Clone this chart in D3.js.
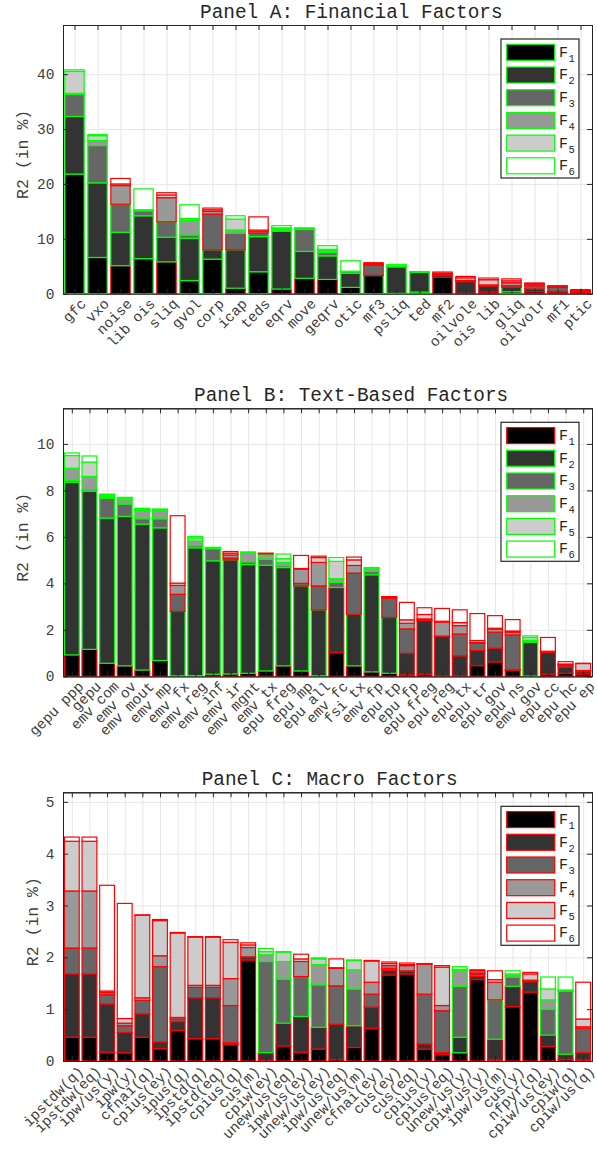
<!DOCTYPE html>
<html>
<head>
<meta charset="utf-8">
<title>R2 by factor</title>
<script src="https://d3js.org/d3.v7.min.js"></script>
<style>
  body { margin: 0; background: #fff; }
  svg text { font-family: 'Liberation Mono', 'DejaVu Sans Mono', monospace; fill: #262626; }
  .grid line { stroke: #e6e6e6; stroke-width: 1; }
  .axis path { stroke: #262626; }
  .axis line { stroke: #262626; }
  .axis text { font-size: 14.5px; fill: #404040; }
  text.title { font-size: 19.4px; }
  text.ylab { font-size: 16.5px; fill: #404040; }
</style>
</head>
<body>
<div id="chart"></div>
<script>
// cumulative R2 (in %) when adding factors F1..F6, and edge colour per factor (g = green, r = red)

var finLabels = ["gfc","vxo","noise","lib ois","sliq","gvol","corp","icap","teds","eqrv","move","geqrv",
  "otic","mf3","psliq","ted","mf2","oilvole","ois lib","gliq","oilvolr","mf1","ptic"];
var finR2 = [
  [21.8, 32.3, 36.3, 36.5, 40.5, 40.8],
  [6.6, 20.2, 27.0, 27.9, 28.8, 29.0],
  [5.1, 11.2, 16.3, 19.7, 20.0, 21.0],
  [6.4, 14.2, 15.1, 15.2, 15.3, 19.1],
  [5.8, 10.3, 13.1, 17.5, 18.0, 18.4],
  [2.4, 10.1, 10.7, 13.4, 13.7, 16.2],
  [6.3, 8.0, 14.5, 15.0, 15.3, 15.6],
  [1.0, 8.0, 11.0, 11.6, 13.6, 14.2],
  [4.0, 10.4, 11.0, 11.3, 11.6, 14.0],
  [0.85, 11.4, 11.6, 11.8, 12.0, 12.4],
  [2.8, 7.7, 11.7, 11.8, 11.9, 12.0],
  [2.6, 6.9, 7.5, 8.0, 8.1, 8.75],
  [1.15, 3.7, 4.0, 4.05, 4.1, 6.0],
  [3.3, 3.35, 5.2, 5.3, 5.45, 5.65],
  [0.05, 4.9, 4.95, 5.0, 5.1, 5.35],
  [0.3, 3.9, 3.95, 3.97, 3.98, 4.0],
  [3.0, 3.35, 3.4, 3.5, 3.7, 3.95],
  [0.05, 2.2, 2.3, 2.4, 2.9, 3.15],
  [0.3, 1.4, 1.5, 1.6, 2.55, 2.85],
  [0.35, 1.15, 1.45, 2.0, 2.35, 2.7],
  [0.35, 0.85, 1.45, 1.75, 1.85, 1.95],
  [0.3, 0.4, 1.15, 1.3, 1.4, 1.45],
  [0.25, 0.35, 0.45, 0.55, 0.6, 0.75]
];
var finSig = ["gggggg","gggggg","rggrrr","gggggg","rggrrr","gggggg","ggrrrr","rgrggg","gggrrr","rggggg",
  "rggggg","rggggg","gggggg","grrrrr","gggggg","gggggg","rrrrrr","rrrrrr","rrrrrr","ggrrrr","rrrrrr",
  "rrrrrr","rrrrrr"];

var textLabels = ["gepu ppp","gepu","emv com","emv ov","emv mout","emv mp","emv fx","emv reg","emv inf",
  "emv ir","emv mgnt","emv tx","epu freg","epu mp","epu all","emv fc","fsi tx","emv fp","epu tp","epu fp",
  "epu freg","epu reg","epu tx","epu tr","epu gov","epu ns","emv gov","epu cc","epu hc","epu ep"];
var textR2 = [
  [0.92, 8.35, 8.43, 8.95, 9.5, 9.61],
  [1.16, 7.96, 8.03, 8.6, 9.22, 9.48],
  [0.56, 6.81, 7.66, 7.74, 7.8, 7.84],
  [0.45, 6.88, 7.41, 7.6, 7.67, 7.7],
  [0.27, 6.55, 6.78, 7.14, 7.2, 7.23],
  [0.68, 6.39, 6.78, 7.1, 7.16, 7.2],
  [0.02, 2.79, 3.53, 3.91, 4.01, 6.91],
  [0.03, 5.53, 5.62, 5.82, 5.95, 6.02],
  [0.09, 4.97, 5.49, 5.51, 5.52, 5.55],
  [0.1, 5.01, 5.09, 5.22, 5.3, 5.37],
  [0.13, 4.81, 4.93, 5.3, 5.33, 5.35],
  [0.23, 4.78, 5.04, 5.23, 5.27, 5.3],
  [0.45, 4.68, 4.76, 4.9, 5.06, 5.26],
  [0.23, 3.89, 4.0, 4.61, 4.64, 5.2],
  [0.02, 2.86, 3.89, 4.9, 5.11, 5.17],
  [1.03, 3.82, 4.04, 4.2, 4.95, 5.11],
  [0.45, 2.67, 4.44, 4.77, 5.01, 5.13],
  [0.19, 4.37, 4.51, 4.61, 4.65, 4.68],
  [0.13, 2.53, 3.36, 3.39, 3.42, 3.43],
  [0.06, 0.99, 2.04, 2.28, 2.43, 3.18],
  [0.09, 2.4, 2.42, 2.47, 2.66, 2.95],
  [0.02, 1.71, 1.73, 2.33, 2.37, 2.92],
  [0.02, 0.88, 1.82, 2.18, 2.31, 2.86],
  [0.46, 1.11, 1.42, 1.45, 1.54, 2.7],
  [0.62, 1.21, 1.9, 2.03, 2.07, 2.61],
  [0.26, 0.28, 1.78, 1.9, 1.95, 2.44],
  [0.01, 1.47, 1.5, 1.55, 1.67, 1.74],
  [0.09, 1.02, 1.04, 1.06, 1.08, 1.67],
  [0.13, 0.39, 0.46, 0.5, 0.53, 0.63],
  [0.1, 0.2, 0.22, 0.25, 0.55, 0.56]
];
var textSig = ["rggggg","rggggg","rggggg","rggggg","rggggg","rggggg","ggrrrr","gggggg","rggggg","rgrrrr",
  "rggggg","rggggr","rggggg","rgrrrr","ggrrrr","rrgggg","rgrrrr","rggggg","rgrrrr","rrrrrr","rrrrrr",
  "rrrrrr","rrrrrr","rrrrrr","rrrrrr","rrrrrr","gggggg","rrrrrr","rrrrrr","rrrrrr"];

var macroLabels = ["ipstdw(q)","ipstdw(eq)","ipw/us(y)","ipw(y)","cfnai(q)","cpius(ey)","ipus(q)","ipstd(q)",
  "ipstd(eq)","cpius(q)","cus(m)","cpiw(ey)","unew/us(eq)","ipw/us(ey)","unew/us(ey)","ipw/us(eq)",
  "unew/us(m)","cfnai(ey)","cus(ey)","cus(eq)","cpius(y)","cpius(eq)","unew/us(y)","cpiw/us(y)",
  "ipw/us(m)","cus(y)","nfpyr(q)","cpiw/us(ey)","cpiw(q)","cpiw/us(q)"];
var macroR2 = [
  [0.46, 1.68, 2.18, 3.28, 4.24, 4.32],
  [0.46, 1.68, 2.18, 3.28, 4.24, 4.32],
  [0.17, 1.1, 1.28, 1.32, 1.35, 3.39],
  [0.16, 0.55, 0.68, 0.73, 0.82, 3.04],
  [0.46, 0.91, 1.17, 1.22, 2.81, 2.82],
  [0.24, 0.37, 1.82, 2.03, 2.71, 2.73],
  [0.59, 0.76, 0.81, 0.84, 2.47, 2.48],
  [0.43, 1.22, 1.42, 1.46, 2.39, 2.4],
  [0.43, 1.22, 1.42, 1.46, 2.39, 2.4],
  [0.32, 0.35, 1.07, 1.59, 2.29, 2.34],
  [1.95, 2.0, 2.01, 2.19, 2.24, 2.28],
  [0.01, 0.16, 1.92, 2.05, 2.11, 2.17],
  [0.29, 0.73, 1.58, 1.92, 2.1, 2.11],
  [0.17, 0.86, 1.63, 1.92, 1.97, 2.06],
  [0.23, 0.65, 1.47, 1.86, 1.97, 1.99],
  [0.03, 0.71, 1.45, 1.79, 1.8, 1.97],
  [0.26, 0.68, 1.39, 1.76, 1.94, 1.95],
  [0.63, 1.04, 1.29, 1.52, 1.93, 1.94],
  [1.66, 1.75, 1.79, 1.84, 1.88, 1.91],
  [1.68, 1.73, 1.74, 1.84, 1.86, 1.89],
  [0.23, 0.33, 1.29, 1.87, 1.875, 1.88],
  [0.12, 0.16, 0.97, 1.07, 1.81, 1.84],
  [0.16, 0.46, 1.44, 1.75, 1.77, 1.82],
  [1.57, 1.63, 1.68, 1.7, 1.74, 1.76],
  [0.02, 0.42, 1.18, 1.52, 1.57, 1.74],
  [1.05, 1.44, 1.62, 1.65, 1.68, 1.74],
  [1.33, 1.53, 1.55, 1.56, 1.68, 1.71],
  [0.28, 0.5, 1.0, 1.18, 1.39, 1.62],
  [0.03, 0.13, 1.35, 1.36, 1.37, 1.62],
  [0.02, 0.16, 0.63, 0.66, 0.81, 1.52]
];
var macroSig = ["rrrrrr","rrrrrr","rrrrrr","rrrrrr","rrrrrr","rrrrrr","rrrrrr","rrrrrr","rrrrrr","rrrrrr",
  "rrrrrr","rrgggg","rrgggg","rrgrrr","rrgggg","rrrrrr","rrgggg","rrrrrr","rrrrrr","rrrrrr","rrrrrr",
  "rrrrrr","rggggg","rrrrrr","rrgrrr","rrgggg","rrrrrr","rrgggg","rrgggg","rrrrrr"];

var factorNames = ["1","2","3","4","5","6"];
var fills = ["#000000","#333333","#666666","#999999","#cccccc","#ffffff"];
var edge = {g: "#00ff00", r: "#ff0000"};

var panels = [
  {title: "Panel A: Financial Factors", tx: 200, labels: finLabels, r2: finR2, sig: finSig, leg: "gggggg", top: 25, bottom: 293.7, ylx: 22.5},
  {title: "Panel B: Text-Based Factors", tx: 194, labels: textLabels, r2: textR2, sig: textSig, leg: "rggggg", top: 408.3, bottom: 676.3, ylx: 22.5},
  {title: "Panel C: Macro Factors", tx: 201.7, labels: macroLabels, r2: macroR2, sig: macroSig, leg: "rrrrrr", top: 792.3, bottom: 1061, ylx: 32}
];

var width = 597, height = 1149, left = 63, right = 592;

var svg = d3.select("#chart").append("svg")
    .attr("width", width)
    .attr("height", height);

panels.forEach(drawPanel);

function drawPanel(p) {
  var n = p.labels.length;
  var x = d3.scaleLinear().domain([0.5, n + 0.5]).range([left, right]);
  var y = d3.scaleLinear().domain([0, d3.max(p.r2, function(d) { return d[5]; }) * 1.2]).range([p.bottom, p.top]);
  var idx = d3.range(1, n + 1);
  var bw = (x(2) - x(1)) * 0.84;
  var g = svg.append("g");

  // grid
  g.append("g").attr("class", "grid")
    .attr("transform", "translate(0," + p.bottom + ")")
    .call(d3.axisBottom(x).tickValues(idx).tickSize(-(p.bottom - p.top)).tickFormat(""));
  g.append("g").attr("class", "grid")
    .attr("transform", "translate(" + left + ",0)")
    .call(d3.axisLeft(y).ticks(5).tickSize(-(right - left)).tickFormat(""));

  // stacked bars
  var bars = g.selectAll(".bar").data(p.r2).enter().append("g").attr("class", "bar");
  bars.each(function(d, i) {
    var b = d3.select(this);
    d.forEach(function(v, k) {
      var lo = k ? d[k - 1] : 0;
      b.append("rect")
        .attr("x", x(i + 1) - bw / 2)
        .attr("y", y(v))
        .attr("width", bw)
        .attr("height", Math.max(0, y(lo) - y(v)))
        .attr("fill", fills[k])
        .attr("stroke", edge[p.sig[i][k]])
        .attr("stroke-width", 1.2);
    });
  });

  // axes (box with inward ticks)
  var xb = g.append("g").attr("class", "axis")
    .attr("transform", "translate(0," + p.bottom + ")")
    .call(d3.axisBottom(x).tickValues(idx).tickSize(-5).tickSizeOuter(0)
      .tickFormat(function(i) { return p.labels[i - 1]; }));
  xb.selectAll("text")
    .attr("x", 0).attr("y", 0).attr("dy", 0)
    .attr("text-anchor", "end")
    .attr("transform", "translate(12,11) rotate(-45)");
  g.append("g").attr("class", "axis")
    .attr("transform", "translate(0," + p.top + ")")
    .call(d3.axisTop(x).tickValues(idx).tickSize(-5).tickSizeOuter(0).tickFormat(""));
  g.append("g").attr("class", "axis")
    .attr("transform", "translate(" + left + ",0)")
    .call(d3.axisLeft(y).ticks(5).tickSize(-5).tickSizeOuter(0).tickPadding(8.5));
  g.append("g").attr("class", "axis")
    .attr("transform", "translate(" + right + ",0)")
    .call(d3.axisRight(y).ticks(5).tickSize(-5).tickSizeOuter(0).tickFormat(""));

  g.append("text").attr("class", "title")
    .attr("x", p.tx).attr("y", p.top - 7.5)
    .text(p.title);

  g.append("text").attr("class", "ylab")
    .attr("text-anchor", "middle")
    .attr("transform", "translate(" + p.ylx + "," + ((p.top + p.bottom) / 2 - 5) + ") rotate(-90)")
    .attr("dy", "0.35em")
    .text("R2 (in %)");

  // legend
  var lg = g.append("g").attr("transform", "translate(501," + (p.top + 14) + ")");
  lg.append("rect").attr("width", 78).attr("height", 139)
    .attr("fill", "#fff").attr("stroke", "#262626").attr("stroke-width", 1.2);
  factorNames.forEach(function(f, k) {
    var yy = 5.3 + k * 22.7;
    lg.append("rect").attr("x", 5.7).attr("y", yy).attr("width", 48).attr("height", 16)
      .attr("fill", fills[k]).attr("stroke", edge[p.leg[k]]).attr("stroke-width", 1.2);
    var t = lg.append("text").attr("x", 58).attr("y", yy + 12.4).style("font-size", "15px");
    t.append("tspan").text("F");
    t.append("tspan").attr("dx", 0.5).attr("dy", 5).style("font-size", "10.5px").text(f);
  });
}
</script>
</body>
</html>
